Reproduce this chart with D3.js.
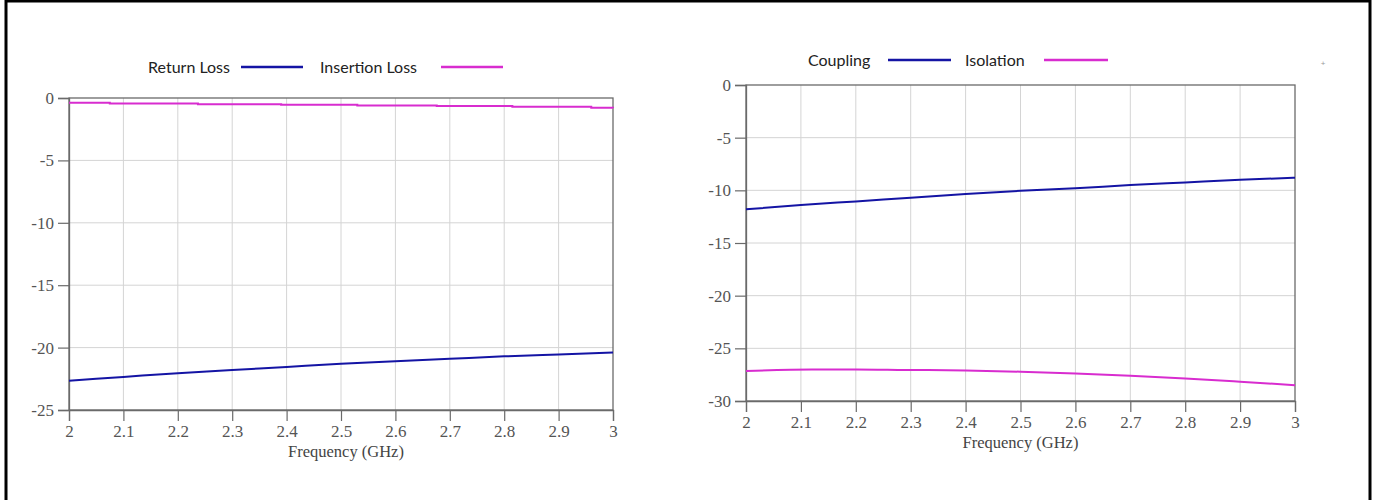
<!DOCTYPE html>
<html><head><meta charset="utf-8">
<script src="https://cdn.jsdelivr.net/npm/d3@7"></script>
<style>body{margin:0;background:#fff}svg{display:block}</style>
</head><body>
<svg id="c" width="1377" height="500"></svg>
<script>
const freqTicks = [2, 2.1, 2.2, 2.3, 2.4, 2.5, 2.6, 2.7, 2.8, 2.9, 3];
const leftYTicks = [0, -5, -10, -15, -20, -25];
const rightYTicks = [0, -5, -10, -15, -20, -25, -30];

const freqSmooth = [2.0, 2.1, 2.2, 2.3, 2.4, 2.5, 2.6, 2.7, 2.8, 2.9, 3.0];
const returnLoss = [-22.65, -22.35, -22.05, -21.8, -21.55, -21.3, -21.1, -20.9, -20.7, -20.55, -20.4];
const insFreq = [2.0, 2.075, 2.237, 2.39, 2.53, 2.676, 2.815, 2.96, 3.0];
const insertionLoss = [-0.38, -0.45, -0.5, -0.55, -0.6, -0.65, -0.7, -0.78, -0.8];
const coupling = [-11.8, -11.4, -11.05, -10.7, -10.35, -10.05, -9.8, -9.5, -9.25, -9.0, -8.8];
const isoFreq = [2.0, 2.12, 2.2, 2.29, 2.4, 2.5, 2.6, 2.7, 2.8, 2.9, 3.0];
const isolation = [-27.15, -27.02, -27.0, -27.05, -27.1, -27.22, -27.38, -27.6, -27.86, -28.17, -28.5];

const BLUE = "#1414a4", MAG = "#d82ccf";
const svg = d3.select("#c");

// outer border
svg.append("path").attr("d", "M6,500 V1 H1370 V500").attr("fill", "none")
  .attr("stroke", "#000").attr("stroke-width", 3);

function panel(o) {
  const x = d3.scaleLinear().domain([2, 3]).range([o.x0, o.x1]);
  const y = d3.scaleLinear().domain([o.yMax, o.yMin]).range([o.y0, o.y1]);
  const g = svg.append("g");
  // grid
  g.selectAll(".vg").data(freqTicks.slice(1, -1)).join("line")
    .attr("x1", d => x(d)).attr("x2", d => x(d)).attr("y1", o.y0).attr("y2", o.y1)
    .attr("stroke", "#d4d4d4").attr("stroke-width", 1);
  g.selectAll(".hg").data(o.yTicks.slice(1, -1)).join("line")
    .attr("x1", o.x0).attr("x2", o.x1).attr("y1", d => y(d)).attr("y2", d => y(d))
    .attr("stroke", "#d4d4d4").attr("stroke-width", 1);
  // frame
  g.append("rect").attr("x", o.x0).attr("y", o.y0).attr("width", o.x1 - o.x0).attr("height", o.y1 - o.y0)
    .attr("fill", "none").attr("stroke", "#6a6a6a").attr("stroke-width", 1.3);
  // axes
  const xa = g.append("g").attr("transform", `translate(0,${o.y1})`)
    .call(d3.axisBottom(x).tickValues(freqTicks).tickSize(11).tickPadding(4).tickFormat(d3.format("")));
  const ya = g.append("g").attr("transform", `translate(${o.x0},0)`)
    .call(d3.axisLeft(y).tickValues(o.yTicks).tickSize(11).tickPadding(4).tickFormat(d => String(d)));
  [xa, ya].forEach(a => {
    a.select(".domain").attr("stroke", "#6a6a6a").attr("stroke-width", 1.3);
    a.selectAll(".tick line").attr("stroke", "#6a6a6a").attr("stroke-width", 1.2);
    a.selectAll("text").attr("fill", "#555").style("font-family", "'Liberation Serif', serif").style("font-size", "17px");
  });
  g.append("text").attr("x", (o.x0 + o.x1) / 2 + o.labelDx).attr("y", o.y1 + 47)
    .attr("text-anchor", "middle").attr("fill", "#444")
    .style("font-family", "'Liberation Serif', serif").style("font-size", "16.5px").text("Frequency (GHz)");
  // series
  o.series.forEach(s => {
    const pts = s.f.map((f, i) => [f, s.v[i]]);
    g.append("path").datum(pts).attr("fill", "none").attr("stroke", s.color).attr("stroke-width", 2)
      .attr("d", d3.line().x(d => x(d[0])).y(d => y(d[1])).curve(s.curve));
  });
  // legend
  o.legend.forEach(l => {
    g.append("text").attr("x", l.tx).attr("y", o.ly + 5.5).attr("fill", "#222")
      .style("font-family", "Lato, sans-serif").style("font-size", "16px").text(l.name);
    g.append("line").attr("x1", l.lx0).attr("x2", l.lx1).attr("y1", o.ly).attr("y2", o.ly)
      .attr("stroke", l.color).attr("stroke-width", 2.4);
  });
}

panel({
  x0: 69, x1: 613, y0: 98, y1: 410, yMax: 0, yMin: -25, yTicks: leftYTicks, labelDx: 5, ly: 67,
  series: [
    { f: freqSmooth, v: returnLoss, color: BLUE, curve: d3.curveMonotoneX },
    { f: insFreq, v: insertionLoss, color: MAG, curve: d3.curveStepAfter }
  ],
  legend: [
    { name: "Return Loss", tx: 148, lx0: 241, lx1: 303, color: BLUE },
    { name: "Insertion Loss", tx: 320, lx0: 441, lx1: 503, color: MAG }
  ]
});

panel({
  x0: 746, x1: 1295, y0: 85, y1: 401, yMax: 0, yMin: -30, yTicks: rightYTicks, labelDx: 0, ly: 60,
  series: [
    { f: freqSmooth, v: coupling, color: BLUE, curve: d3.curveMonotoneX },
    { f: isoFreq, v: isolation, color: MAG, curve: d3.curveMonotoneX }
  ],
  legend: [
    { name: "Coupling", tx: 808, lx0: 888, lx1: 951, color: BLUE },
    { name: "Isolation", tx: 965, lx0: 1044, lx1: 1108, color: MAG }
  ]
});

svg.append("text").attr("x", 1323).attr("y", 66).attr("text-anchor", "middle").attr("fill", "#999")
  .style("font-family", "sans-serif").style("font-size", "8px").text("+");
</script>
</body></html>
